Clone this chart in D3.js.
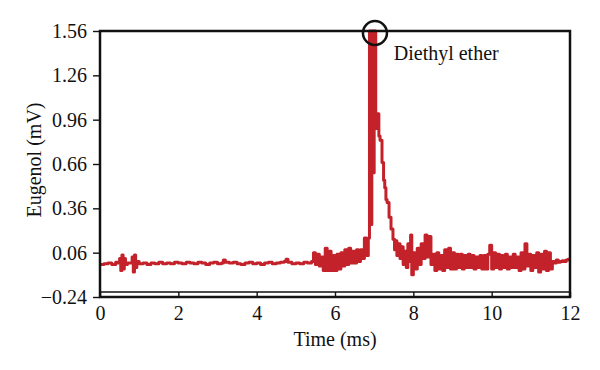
<!DOCTYPE html>
<html>
<head>
<meta charset="utf-8">
<script src="https://cdn.jsdelivr.net/npm/d3@7"></script>
<style>
  body { margin: 0; background: #fff; }
  svg text { font-family: "Liberation Serif", "DejaVu Serif", serif; fill: #111; }
</style>
</head>
<body>
<div id="chart"></div>
<script>
// signal, [time (ms), eugenol (mV)]
const baseline = [
  [0,-0.02],[0.1,-0.015],[0.2,-0.01],[0.3,-0.02],[0.4,-0.005],[0.45,-0.01],[0.5,0.02],[0.53,-0.06],
  [0.56,0.045],[0.59,-0.05],[0.62,0.02],[0.65,-0.02],[0.7,-0.01],[0.78,-0.01],[0.82,0.03],[0.85,-0.07],
  [0.88,0.045],[0.91,-0.04],[0.94,0.0],[1.0,-0.015],[1.1,-0.01],[1.2,-0.02],[1.3,-0.01],[1.4,-0.015],
  [1.5,-0.005],[1.6,-0.015],[1.7,-0.01],[1.8,-0.015],[1.9,-0.005],[2.0,-0.01],[2.1,-0.015],[2.2,-0.005],
  [2.3,-0.01],[2.4,-0.015],[2.5,-0.005],[2.6,-0.01],[2.7,-0.02],[2.8,-0.01],[2.9,-0.005],[3.0,-0.015],
  [3.1,-0.01],[3.15,0.01],[3.2,-0.005],[3.3,-0.01],[3.4,-0.005],[3.5,-0.015],[3.6,-0.02],[3.7,-0.01],
  [3.8,-0.005],[3.9,-0.015],[4.0,-0.01],[4.1,-0.02],[4.2,-0.01],[4.3,-0.005],[4.4,-0.015],[4.5,-0.01],
  [4.6,-0.005],[4.7,0.0],[4.75,0.015],[4.8,-0.005],[4.9,-0.015],[5.0,-0.01],[5.1,-0.015],[5.2,-0.005],
  [5.3,-0.01],[5.4,0.0]
];
const rise = [
  [5.45,0.06],[5.5,-0.02],[5.55,0.05],[5.6,-0.03],[5.65,0.03],[5.7,-0.06],[5.75,0.09],[5.8,-0.06],
  [5.85,0.07],[5.9,-0.06],[5.95,0.04],[6.0,-0.06],[6.05,0.05],[6.1,-0.05],[6.15,0.06],[6.2,-0.03],
  [6.25,0.08],[6.3,-0.02],[6.35,0.09],[6.4,-0.01],[6.45,0.07],[6.5,-0.01],[6.55,0.08],[6.6,0.0],
  [6.65,0.08],[6.7,0.02],[6.75,0.16],[6.8,0.04],[6.85,0.16]
];
const peak = [
  [6.88,1.56],[6.91,0.25],[6.94,1.56],[6.97,0.6],[7.0,1.56],[7.04,0.9],[7.07,1.0],[7.12,0.85],
  [7.15,0.82],[7.2,0.67],[7.24,0.55],[7.27,0.5],[7.3,0.42],[7.33,0.4],[7.38,0.3],[7.43,0.22],[7.48,0.15]
];
const tail = [
  [7.52,0.08],[7.55,0.14],[7.58,0.04],[7.62,0.12],[7.66,0.02],[7.7,0.1],[7.74,-0.02],[7.78,0.07],
  [7.82,-0.04],[7.86,0.12],[7.9,0.0],[7.93,0.18],[7.96,-0.09],[8.0,0.06],[8.05,-0.05],[8.1,0.09],
  [8.15,-0.02],[8.2,0.12],[8.25,0.02],[8.3,0.18],[8.35,0.03],[8.4,0.17],[8.45,-0.02],[8.5,0.05],
  [8.55,-0.06],[8.6,0.06],[8.65,-0.05],[8.7,0.04],[8.75,-0.06],[8.8,0.08],[8.85,-0.04],[8.9,0.09],
  [8.95,-0.05],[9.0,0.06],[9.05,-0.05],[9.1,0.05],[9.15,-0.04],[9.2,0.05],[9.25,-0.05],[9.3,0.04],
  [9.35,-0.04],[9.4,0.05],[9.45,-0.04],[9.5,0.04],[9.55,-0.05],[9.6,0.03],[9.65,-0.04],[9.7,0.04],
  [9.75,-0.05],[9.8,0.04],[9.85,-0.05],[9.9,0.05],[9.95,0.11],[10.0,-0.05],[10.05,0.06],[10.1,-0.04],
  [10.15,0.05],[10.2,-0.05],[10.25,0.04],[10.3,-0.04],[10.35,0.05],[10.4,-0.05],[10.45,0.03],[10.5,-0.04],
  [10.55,0.05],[10.6,-0.04],[10.65,0.03],[10.7,-0.06],[10.75,0.06],[10.8,-0.05],[10.85,0.12],[10.9,-0.03],
  [10.95,0.05],[11.0,-0.06],[11.05,0.04],[11.1,-0.04],[11.15,0.06],[11.2,-0.07],[11.25,0.05],[11.3,-0.05],
  [11.35,0.07],[11.4,-0.06],[11.45,0.06],[11.5,-0.05],[11.55,0.0],[11.6,-0.01],[11.65,0.01],[11.7,-0.005],
  [11.75,0.0],[11.8,0.005],[11.85,0.0],[11.9,0.01],[11.95,0.015],[12.0,0.015]
];
const xTicks = [0, 2, 4, 6, 8, 10, 12];
const yTicks = [-0.24, 0.06, 0.36, 0.66, 0.96, 1.26, 1.56];
const peakLabel = "Diethyl ether";

const signal = baseline.concat(rise, peak, tail);

var width = 600, height = 370;
var margin = {left: 100, right: 30, top: 31, bottom: 73};
var fontSize = "20px";

var svg = d3.select("#chart").append("svg")
    .attr("width", width)
    .attr("height", height);

var x = d3.scaleLinear().domain([0, 12]).range([margin.left, width - margin.right]);
var y = d3.scaleLinear().domain([-0.24, 1.56]).range([height - margin.bottom, margin.top]);

// trace
var line = d3.line()
    .x(d => x(d[0]))
    .y(d => y(d[1]))
    .curve(d3.curveStepAfter);

svg.append("path")
    .datum(signal)
    .attr("fill", "none")
    .attr("stroke", "#c4222a")
    .attr("stroke-width", 3)
    .attr("stroke-linejoin", "round")
    .attr("d", line);

// y axis, ticks outward
var yAxis = svg.append("g")
    .attr("transform", "translate(" + margin.left + ",0)")
    .call(d3.axisLeft(y).tickValues(yTicks).tickFormat(d3.format(".2f")).tickSize(7).tickPadding(6));
yAxis.select(".domain").remove();
yAxis.selectAll(".tick line").attr("stroke", "#111").attr("stroke-width", 1.4);
yAxis.selectAll("text").style("font-size", fontSize).attr("fill", "#111");

// x axis, ticks inward
var xAxis = svg.append("g")
    .attr("transform", "translate(0," + y(-0.24) + ")")
    .call(d3.axisBottom(x).tickValues(xTicks).tickSizeInner(-5).tickSizeOuter(0).tickPadding(9));
xAxis.select(".domain").remove();
xAxis.selectAll(".tick line").attr("stroke", "#111").attr("stroke-width", 1.4);
xAxis.selectAll("text").style("font-size", fontSize).attr("fill", "#111");

// frame
svg.append("rect")
    .attr("x", x(0)).attr("y", y(1.56))
    .attr("width", x(12) - x(0)).attr("height", y(-0.24) - y(1.56))
    .attr("fill", "none").attr("stroke", "#111").attr("stroke-width", 2.5);
svg.append("line")
    .attr("x1", x(0)).attr("x2", x(12))
    .attr("y1", y(-0.24) - 5).attr("y2", y(-0.24) - 5)
    .attr("stroke", "#111").attr("stroke-width", 1.3);

// marker around the peak
svg.append("circle")
    .attr("cx", x(7.02)).attr("cy", y(1.56) + 2)
    .attr("r", 12)
    .attr("fill", "none").attr("stroke", "#111").attr("stroke-width", 2.5);

svg.append("text")
    .attr("x", x(7.5)).attr("y", 60)
    .style("font-size", fontSize)
    .text(peakLabel);

// axis titles
svg.append("text")
    .attr("x", (x(0) + x(12)) / 2).attr("y", 346)
    .attr("text-anchor", "middle")
    .style("font-size", fontSize)
    .text("Time (ms)");

svg.append("text")
    .attr("transform", "translate(41," + 160 + ") rotate(-90)")
    .attr("text-anchor", "middle")
    .style("font-size", fontSize)
    .text("Eugenol (mV)");
</script>
</body>
</html>
